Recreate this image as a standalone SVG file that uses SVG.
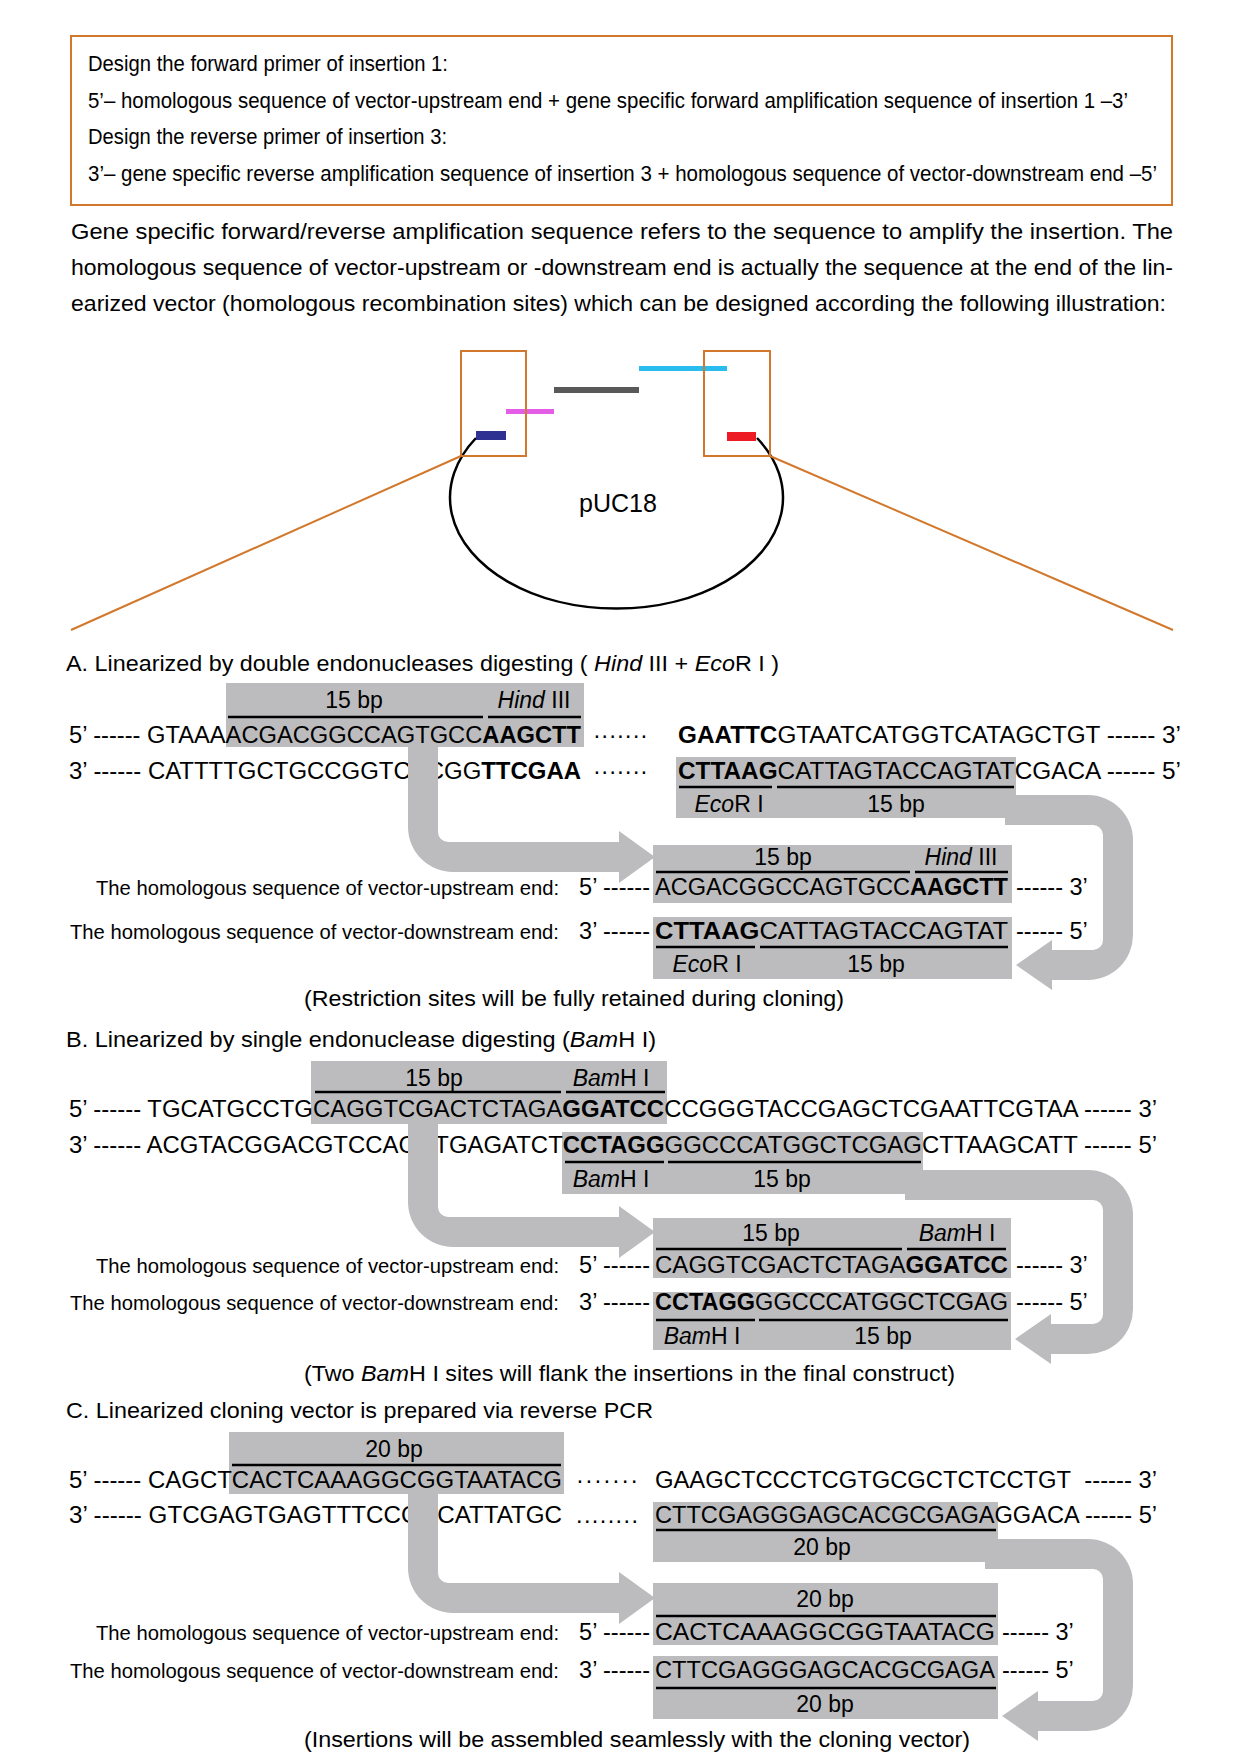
<svg xmlns="http://www.w3.org/2000/svg" width="1241" height="1764" viewBox="0 0 1241 1764">
<style>
text{font-family:"Liberation Sans",Arial,sans-serif;fill:#000}
.hd{font-size:22px}
.p{font-size:22.5px}
.ti{font-size:22px}
.sq{font-size:23.5px}
.lb{font-size:23px}
.hl{font-size:20px}
.nt{font-size:22px}
.b{font-weight:bold}
.i{font-style:italic}
.box{fill:#BCBCBE}
.ul{stroke:#000;stroke-width:2.5}
.arr{fill:#BCBCBE}
.or{fill:none;stroke:#D2782C;stroke-width:2}
</style>
<rect fill="#fff" width="1241" height="1764"/>

<g id="primer-box">
<rect class="or" x="71" y="36" width="1101" height="169" stroke-width="2.5"/>
<text class="hd" x="88" y="71" textLength="360" lengthAdjust="spacingAndGlyphs">Design the forward primer of insertion 1:</text>
<text class="hd" x="88" y="108" textLength="1040" lengthAdjust="spacingAndGlyphs">5’– homologous sequence of vector-upstream end + gene specific forward amplification sequence of insertion 1 –3’</text>
<text class="hd" x="88" y="144" textLength="359" lengthAdjust="spacingAndGlyphs">Design the reverse primer of insertion 3:</text>
<text class="hd" x="88" y="181" textLength="1069" lengthAdjust="spacingAndGlyphs">3’– gene specific reverse amplification sequence of insertion 3 + homologous sequence of vector-downstream end –5’</text>
</g>

<g id="paragraph">
<text class="p" x="71" y="239" textLength="1102" lengthAdjust="spacingAndGlyphs">Gene specific forward/reverse amplification sequence refers to the sequence to amplify the insertion. The</text>
<text class="p" x="71" y="275" textLength="1102" lengthAdjust="spacingAndGlyphs">homologous sequence of vector-upstream or -downstream end is actually the sequence at the end of the lin-</text>
<text class="p" x="71" y="311" textLength="1095" lengthAdjust="spacingAndGlyphs">earized vector (homologous recombination sites) which can be designed according the following illustration:</text>
</g>

<g id="plasmid">
<path d="M 476 438 A 166.5 111 0 1 0 757 438" fill="none" stroke="#000" stroke-width="2.5"/>
<rect x="476" y="431" width="30" height="9" fill="#2E3192"/>
<rect x="727" y="432" width="29" height="9" fill="#ED1C24"/>
<rect x="506" y="409" width="48" height="5" fill="#E35DE6"/>
<rect x="554" y="387" width="85" height="6" fill="#595959"/>
<rect x="639" y="366" width="88" height="5" fill="#29BCEF"/>
<rect class="or" x="461" y="351" width="65" height="105"/>
<rect class="or" x="704" y="351" width="66" height="105"/>
<line class="or" x1="461" y1="456" x2="71" y2="630"/>
<line class="or" x1="770" y1="456" x2="1173" y2="630"/>
<text x="618" y="512" font-size="25" text-anchor="middle">pUC18</text>
</g>

<!-- Section A -->
<g id="sectionA">
<text class="ti" x="66" y="671" textLength="713" lengthAdjust="spacingAndGlyphs">A. Linearized by double endonucleases digesting ( <tspan class="i">Hind</tspan> III + <tspan class="i">Eco</tspan>R I )</text>
<g id="A-vector-upstream">
<rect class="box" x="226" y="683" width="358" height="64"/>
<text class="lb" x="354" y="708" text-anchor="middle">15 bp</text>
<text class="lb" x="534" y="708" text-anchor="middle"><tspan class="i">Hind</tspan> III</text>
<line class="ul" x1="228" y1="717" x2="483" y2="717"/>
<line class="ul" x1="488" y1="717" x2="581" y2="717"/>
</g>
<g id="A-vector-downstream">
<rect class="box" x="676" y="757" width="340" height="61"/>
<line class="ul" x1="679" y1="787" x2="772" y2="787"/>
<line class="ul" x1="777" y1="787" x2="1014" y2="787"/>
<text class="lb" x="729" y="812" text-anchor="middle"><tspan class="i">Eco</tspan>R I</text>
<text class="lb" x="896" y="812" text-anchor="middle">15 bp</text>
</g>
<text class="sq" x="69" y="743" textLength="512" lengthAdjust="spacingAndGlyphs">5’ ------ GTAAAACGACGGCCAGTGCC<tspan class="b">AAGCTT</tspan></text>
<text class="sq" x="593" y="743">·······</text>
<text class="sq" x="678" y="743" textLength="503" lengthAdjust="spacingAndGlyphs"><tspan class="b">GAATTC</tspan>GTAATCATGGTCATAGCTGT ------ 3’</text>
<text class="sq" x="69" y="779" textLength="512" lengthAdjust="spacingAndGlyphs">3’ ------ CATTTTGCTGCCGGTCACGG<tspan class="b">TTCGAA</tspan></text>
<text class="sq" x="593" y="779">·······</text>
<text class="sq" x="678" y="779" textLength="503" lengthAdjust="spacingAndGlyphs"><tspan class="b">CTTAAG</tspan>CATTAGTACCAGTATCGACA ------ 5’</text>
<g id="A-homologous-upstream">
<rect class="box" x="653" y="845" width="359" height="58"/>
<text class="lb" x="783" y="865" text-anchor="middle">15 bp</text>
<text class="lb" x="961" y="865" text-anchor="middle"><tspan class="i">Hind</tspan> III</text>
<line class="ul" x1="656" y1="872" x2="910" y2="872"/>
<line class="ul" x1="915" y1="872" x2="1008" y2="872"/>
<text class="hl" x="96" y="895" textLength="463" lengthAdjust="spacingAndGlyphs">The homologous sequence of vector-upstream end:</text>
<text class="sq" x="650" y="895" text-anchor="end">5’ ------</text>
<text class="sq" x="655" y="895" textLength="353" lengthAdjust="spacingAndGlyphs">ACGACGGCCAGTGCC<tspan class="b">AAGCTT</tspan></text>
<text class="sq" x="1016" y="895">------ 3’</text>
</g>
<g id="A-homologous-downstream">
<rect class="box" x="653" y="917" width="359" height="62"/>
<text class="hl" x="70" y="939" textLength="489" lengthAdjust="spacingAndGlyphs">The homologous sequence of vector-downstream end:</text>
<text class="sq" x="650" y="939" text-anchor="end">3’ ------</text>
<text class="sq" x="655" y="939" textLength="353" lengthAdjust="spacingAndGlyphs"><tspan class="b">CTTAAG</tspan>CATTAGTACCAGTAT</text>
<text class="sq" x="1016" y="939">------ 5’</text>
<line class="ul" x1="656" y1="947" x2="755" y2="947"/>
<line class="ul" x1="760" y1="947" x2="1008" y2="947"/>
<text class="lb" x="707" y="972" text-anchor="middle"><tspan class="i">Eco</tspan>R I</text>
<text class="lb" x="876" y="972" text-anchor="middle">15 bp</text>
</g>
<text class="nt" x="304" y="1006" textLength="540" lengthAdjust="spacingAndGlyphs">(Restriction sites will be fully retained during cloning)</text>
</g>

<!-- Section B -->
<g id="sectionB">
<text class="ti" x="66" y="1047" textLength="590" lengthAdjust="spacingAndGlyphs">B. Linearized by single endonuclease digesting (<tspan class="i">Bam</tspan>H I)</text>
<g id="B-vector-upstream">
<rect class="box" x="311" y="1061" width="356" height="63"/>
<text class="lb" x="434" y="1086" text-anchor="middle">15 bp</text>
<text class="lb" x="611" y="1086" text-anchor="middle"><tspan class="i">Bam</tspan>H I</text>
<line class="ul" x1="315" y1="1092" x2="561" y2="1092"/>
<line class="ul" x1="566" y1="1092" x2="665" y2="1092"/>
</g>
<g id="B-vector-downstream">
<rect class="box" x="562" y="1132" width="361" height="62"/>
<line class="ul" x1="565" y1="1162" x2="664" y2="1162"/>
<line class="ul" x1="668" y1="1162" x2="921" y2="1162"/>
<text class="lb" x="611" y="1187" text-anchor="middle"><tspan class="i">Bam</tspan>H I</text>
<text class="lb" x="782" y="1187" text-anchor="middle">15 bp</text>
</g>
<text class="sq" x="69" y="1117" textLength="1088" lengthAdjust="spacingAndGlyphs">5’ ------ TGCATGCCTGCAGGTCGACTCTAGA<tspan class="b">GGATCC</tspan>CCGGGTACCGAGCTCGAATTCGTAA ------ 3’</text>
<text class="sq" x="69" y="1153" textLength="1088" lengthAdjust="spacingAndGlyphs">3’ ------ ACGTACGGACGTCCAGCTGAGATCT<tspan class="b">CCTAGG</tspan>GGCCCATGGCTCGAGCTTAAGCATT ------ 5’</text>
<g id="B-homologous-upstream">
<rect class="box" x="653" y="1218" width="358" height="60"/>
<text class="lb" x="771" y="1241" text-anchor="middle">15 bp</text>
<text class="lb" x="957" y="1241" text-anchor="middle"><tspan class="i">Bam</tspan>H I</text>
<line class="ul" x1="656" y1="1249" x2="902" y2="1249"/>
<line class="ul" x1="907" y1="1249" x2="1006" y2="1249"/>
<text class="hl" x="96" y="1273" textLength="463" lengthAdjust="spacingAndGlyphs">The homologous sequence of vector-upstream end:</text>
<text class="sq" x="650" y="1273" text-anchor="end">5’ ------</text>
<text class="sq" x="655" y="1273" textLength="353" lengthAdjust="spacingAndGlyphs">CAGGTCGACTCTAGA<tspan class="b">GGATCC</tspan></text>
<text class="sq" x="1016" y="1273">------ 3’</text>
</g>
<g id="B-homologous-downstream">
<rect class="box" x="653" y="1292" width="358" height="58"/>
<text class="hl" x="70" y="1310" textLength="489" lengthAdjust="spacingAndGlyphs">The homologous sequence of vector-downstream end:</text>
<text class="sq" x="650" y="1310" text-anchor="end">3’ ------</text>
<text class="sq" x="655" y="1310" textLength="353" lengthAdjust="spacingAndGlyphs"><tspan class="b">CCTAGG</tspan>GGCCCATGGCTCGAG</text>
<text class="sq" x="1016" y="1310">------ 5’</text>
<line class="ul" x1="656" y1="1320" x2="755" y2="1320"/>
<line class="ul" x1="759" y1="1320" x2="1008" y2="1320"/>
<text class="lb" x="702" y="1344" text-anchor="middle"><tspan class="i">Bam</tspan>H I</text>
<text class="lb" x="883" y="1344" text-anchor="middle">15 bp</text>
</g>
<text class="nt" x="304" y="1381" textLength="651" lengthAdjust="spacingAndGlyphs">(Two <tspan class="i">Bam</tspan>H I sites will flank the insertions in the final construct)</text>
</g>

<!-- Section C -->
<g id="sectionC">
<text class="ti" x="66" y="1418" textLength="587" lengthAdjust="spacingAndGlyphs">C. Linearized cloning vector is prepared via reverse PCR</text>
<g id="C-vector-upstream">
<rect class="box" x="229" y="1432" width="335" height="62"/>
<text class="lb" x="394" y="1457" text-anchor="middle">20 bp</text>
<line class="ul" x1="232" y1="1465" x2="561" y2="1465"/>
</g>
<g id="C-vector-downstream">
<rect class="box" x="653" y="1502" width="345" height="60"/>
<line class="ul" x1="656" y1="1530" x2="996" y2="1530"/>
<text class="lb" x="822" y="1555" text-anchor="middle">20 bp</text>
</g>
<text class="sq" x="69" y="1488" textLength="493" lengthAdjust="spacingAndGlyphs">5’ ------ CAGCTCACTCAAAGGCGGTAATACG</text>
<text class="sq" x="576" y="1488" textLength="62" lengthAdjust="spacing">·······</text>
<text class="sq" x="655" y="1488" textLength="502" lengthAdjust="spacingAndGlyphs">GAAGCTCCCTCGTGCGCTCTCCTGT&#160; ------ 3’</text>
<text class="sq" x="69" y="1523" textLength="493" lengthAdjust="spacingAndGlyphs">3’ ------ GTCGAGTGAGTTTCCGCCATTATGC</text>
<text class="sq" x="576" y="1523" textLength="62" lengthAdjust="spacing">........</text>
<text class="sq" x="655" y="1523" textLength="502" lengthAdjust="spacingAndGlyphs">CTTCGAGGGAGCACGCGAGAGGACA ------ 5’</text>
<g id="C-homologous-upstream">
<rect class="box" x="653" y="1583" width="345" height="62"/>
<text class="lb" x="825" y="1607" text-anchor="middle">20 bp</text>
<line class="ul" x1="656" y1="1616" x2="996" y2="1616"/>
<text class="hl" x="96" y="1640" textLength="463" lengthAdjust="spacingAndGlyphs">The homologous sequence of vector-upstream end:</text>
<text class="sq" x="650" y="1640" text-anchor="end">5’ ------</text>
<text class="sq" x="655" y="1640" textLength="340" lengthAdjust="spacingAndGlyphs">CACTCAAAGGCGGTAATACG</text>
<text class="sq" x="1002" y="1640">------ 3’</text>
</g>
<g id="C-homologous-downstream">
<rect class="box" x="653" y="1656" width="345" height="63"/>
<text class="hl" x="70" y="1678" textLength="489" lengthAdjust="spacingAndGlyphs">The homologous sequence of vector-downstream end:</text>
<text class="sq" x="650" y="1678" text-anchor="end">3’ ------</text>
<text class="sq" x="655" y="1678" textLength="340" lengthAdjust="spacingAndGlyphs">CTTCGAGGGAGCACGCGAGA</text>
<text class="sq" x="1002" y="1678">------ 5’</text>
<line class="ul" x1="656" y1="1688" x2="996" y2="1688"/>
<text class="lb" x="825" y="1712" text-anchor="middle">20 bp</text>
</g>
<text class="nt" x="304" y="1747" textLength="666" lengthAdjust="spacingAndGlyphs">(Insertions will be assembled seamlessly with the cloning vector)</text>
</g>

<g id="connectors">
<path class="arr" d="M 408 745 L 408 827 A 45 45 0 0 0 453 872 L 619 872 L 619 883 L 655 857 L 619 831 L 619 842 L 448 842 A 10 10 0 0 1 438 832 L 438 745 Z"/>
<path class="arr" d="M 1005 795 L 1088 795 A 45 45 0 0 1 1133 840 L 1133 935 A 45 45 0 0 1 1088 980 L 1052 980 L 1052 990 L 1016 965 L 1052 940 L 1052 950 L 1093 950 A 10 10 0 0 0 1103 940 L 1103 835 A 10 10 0 0 0 1093 825 L 1005 825 Z"/>
<path class="arr" d="M 408 1122 L 408 1202 A 45 45 0 0 0 453 1247 L 619 1247 L 619 1258 L 655 1232 L 619 1206 L 619 1217 L 448 1217 A 10 10 0 0 1 438 1207 L 438 1122 Z"/>
<path class="arr" d="M 905 1170 L 1088 1170 A 45 45 0 0 1 1133 1215 L 1133 1309 A 45 45 0 0 1 1088 1354 L 1051 1354 L 1051 1364 L 1015 1339 L 1051 1314 L 1051 1324 L 1093 1324 A 10 10 0 0 0 1103 1314 L 1103 1210 A 10 10 0 0 0 1093 1200 L 905 1200 Z"/>
<path class="arr" d="M 408 1492 L 408 1568 A 45 45 0 0 0 453 1613 L 619 1613 L 619 1624 L 655 1598 L 619 1572 L 619 1583 L 448 1583 A 10 10 0 0 1 438 1573 L 438 1492 Z"/>
<path class="arr" d="M 985 1539 L 1088 1539 A 45 45 0 0 1 1133 1584 L 1133 1686 A 45 45 0 0 1 1088 1731 L 1038 1731 L 1038 1741 L 1002 1716 L 1038 1691 L 1038 1701 L 1093 1701 A 10 10 0 0 0 1103 1691 L 1103 1579 A 10 10 0 0 0 1093 1569 L 985 1569 Z"/>
</g>
</svg>
